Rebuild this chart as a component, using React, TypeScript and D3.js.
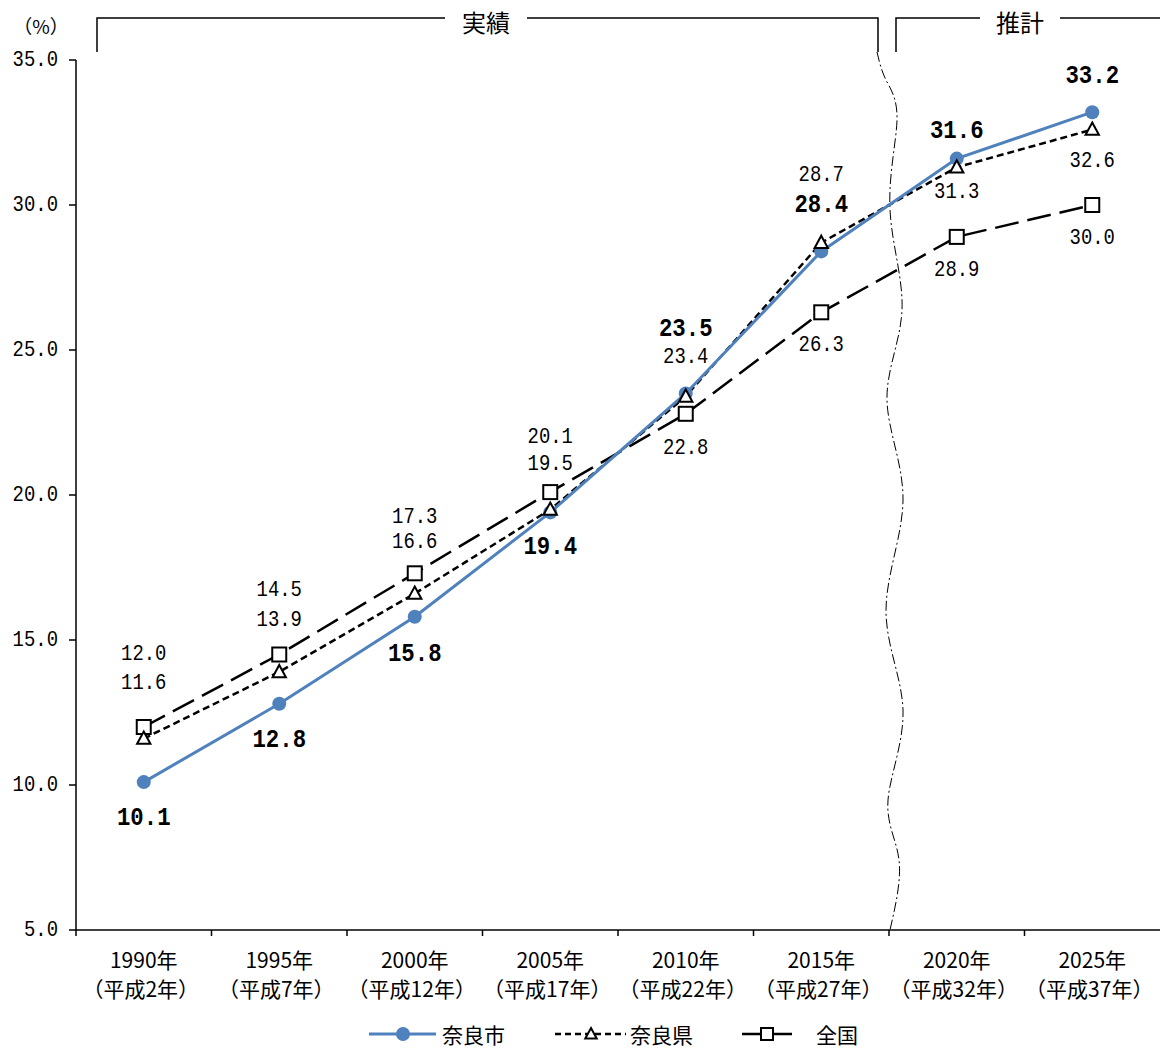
import React from "react";
import * as d3 from "d3";

const categories = ["1990年", "1995年", "2000年", "2005年", "2010年", "2015年", "2020年", "2025年"];
const subLabels = ["（平成2年）", "（平成7年）", "（平成12年）", "（平成17年）", "（平成22年）", "（平成27年）", "（平成32年）", "（平成37年）"];
const naraCity = [10.1, 12.8, 15.8, 19.4, 23.5, 28.4, 31.6, 33.2];
const naraPref = [11.6, 13.9, 16.6, 19.5, 23.4, 28.7, 31.3, 32.6];
const national = [12.0, 14.5, 17.3, 20.1, 22.8, 26.3, 28.9, 30.0];
const yTicks = [5, 10, 15, 20, 25, 30, 35];

// label vertical offsets (px, text centre relative to the point)
const cityDy = [36, 36, 37, 35, -64, -46, -28, -36];
const prefDy = [-55, -52, -51, -45, -39, -68, 25, 32];
const natDy = [-73, -64, -56, -55, 34, 33, 33, 33];

const W = 1160, H = 1048;
const L = 76, R = 1160, T = 60, B = 930;
const numFont = "'Liberation Mono', monospace";
const jpFont = "'Noto Sans CJK JP', sans-serif";
const BLUE = "#4F81BD";

function Num({ x, y, text, size = 22, bold = false, anchor = "middle" }: any) {
  return (
    <g transform={`translate(${x},${y}) scale(0.86,1)`}>
      <text x={0} y={0} textAnchor={anchor} dominantBaseline="central" fontFamily={numFont}
        fontSize={size} fontWeight={bold ? "bold" : "normal"}>{text}</text>
    </g>
  );
}

export default function App() {
  const x = d3.scaleBand<string>().domain(categories).range([L, R]);
  const y = d3.scaleLinear().domain([5, 35]).range([B, T]);
  const cx = (i: number) => (x(categories[i]) as number) + x.bandwidth() / 2;
  const line = d3.line<number>().x((_, i) => cx(i)).y((d) => y(d));

  const wave = d3.line().curve(d3.curveNatural)([
    [877, 52], [886, 80], [897, 120], [890, 210], [902, 310], [887, 400], [903, 500], [886, 610], [903, 710], [888, 800], [899, 860], [890, 930],
  ] as [number, number][]);

  const fmt = (v: number) => v.toFixed(1);
  const tri = (px: number, py: number, s = 7) =>
    `M${px},${py - s}L${px + s * 0.95},${py + s * 0.75}L${px - s * 0.95},${py + s * 0.75}Z`;

  return (
    <svg width={W} height={H} style={{ position: "absolute", left: 0, top: 0, background: "#fff" }}>
      {/* brackets */}
      <g fill="none" stroke="#000" strokeWidth={1.5}>
        <path d="M97,52V18H445" />
        <path d="M527,18H878V52" />
        <path d="M896,52V18H980" />
        <path d="M1060,18H1160" />
      </g>
      <text x={486} y={21} textAnchor="middle" dominantBaseline="central" fontFamily={jpFont} fontSize={24}>実績</text>
      <text x={1020} y={21} textAnchor="middle" dominantBaseline="central" fontFamily={jpFont} fontSize={24}>推計</text>
      <text x={41} y={25} textAnchor="middle" dominantBaseline="central" fontFamily={jpFont} fontSize={19}>（%）</text>

      {/* wavy separator */}
      <path d={wave || ""} fill="none" stroke="#000" strokeWidth={1} strokeDasharray="10,3,2,3" />

      {/* axes */}
      <g stroke="#000" strokeWidth={1.5}>
        <line x1={L} x2={L} y1={T} y2={B} />
        <line x1={L} x2={R} y1={B} y2={B} />
        {yTicks.map((t) => (
          <line key={t} x1={L - 7} x2={L} y1={y(t)} y2={y(t)} />
        ))}
        {categories.map((c) => (
          <line key={c} x1={x(c) as number} x2={x(c) as number} y1={B} y2={B + 6} />
        ))}
      </g>
      {yTicks.map((t) => (
        <Num key={t} x={58} y={y(t)} text={fmt(t)} anchor="end" />
      ))}
      {categories.map((c, i) => (
        <g key={c}>
          <text x={cx(i)} y={959} textAnchor="middle" dominantBaseline="central" fontFamily={jpFont} fontSize={21}>{c}</text>
          <text x={cx(i) - 3} y={988} textAnchor="middle" dominantBaseline="central" fontFamily={jpFont} fontSize={21}>{subLabels[i]}</text>
        </g>
      ))}

      {/* lines */}
      <path d={line(national) || ""} fill="none" stroke="#000" strokeWidth={2.5} strokeDasharray="24,9" />
      <path d={line(naraPref) || ""} fill="none" stroke="#000" strokeWidth={2.5} strokeDasharray="7,4" />
      <path d={line(naraCity) || ""} fill="none" stroke={BLUE} strokeWidth={3} />

      {/* markers */}
      {national.map((v, i) => (
        <rect key={"n" + i} x={cx(i) - 7} y={y(v) - 7} width={14} height={14} fill="#fff" stroke="#000" strokeWidth={2} />
      ))}
      {naraCity.map((v, i) => (
        <circle key={"c" + i} cx={cx(i)} cy={y(v)} r={7} fill={BLUE} />
      ))}
      {naraPref.map((v, i) => (
        <path key={"p" + i} d={tri(cx(i), y(v))} fill="#fff" stroke="#000" strokeWidth={2} />
      ))}

      {/* labels */}
      {national.map((v, i) => (
        <Num key={"nl" + i} x={cx(i)} y={y(v) + natDy[i]} text={fmt(v)} />
      ))}
      {naraPref.map((v, i) => (
        <Num key={"pl" + i} x={cx(i)} y={y(v) + prefDy[i]} text={fmt(v)} />
      ))}
      {naraCity.map((v, i) => (
        <Num key={"cl" + i} x={cx(i)} y={y(v) + cityDy[i]} text={fmt(v)} size={26} bold />
      ))}

      {/* legend */}
      <g>
        <line x1={369} x2={436} y1={1034} y2={1034} stroke={BLUE} strokeWidth={3} />
        <circle cx={403} cy={1034} r={7} fill={BLUE} />
        <text x={442} y={1034} dominantBaseline="central" fontFamily={jpFont} fontSize={21}>奈良市</text>
        <line x1={555} x2={626} y1={1034} y2={1034} stroke="#000" strokeWidth={2.5} strokeDasharray="6,4" />
        <path d={tri(591, 1034, 6)} fill="#fff" stroke="#000" strokeWidth={2} />
        <text x={630} y={1034} dominantBaseline="central" fontFamily={jpFont} fontSize={21}>奈良県</text>
        <line x1={742} x2={792} y1={1034} y2={1034} stroke="#000" strokeWidth={2.5} />
        <rect x={761} y={1028} width={12} height={12} fill="#fff" stroke="#000" strokeWidth={2} />
        <text x={816} y={1034} dominantBaseline="central" fontFamily={jpFont} fontSize={21}>全国</text>
      </g>
    </svg>
  );
}
